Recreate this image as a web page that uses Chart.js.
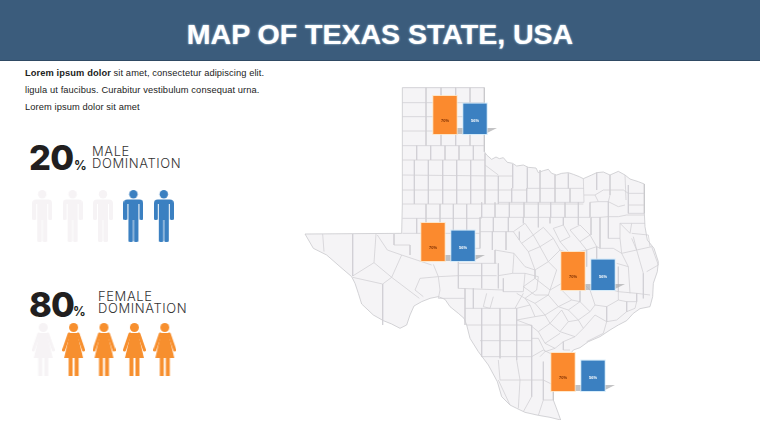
<!DOCTYPE html>
<html>
<head>
<meta charset="utf-8">
<title>Map of Texas State, USA</title>
<script src="https://cdn.jsdelivr.net/npm/chart.js@4/dist/chart.umd.min.js"></script>
<style>
  html, body { margin: 0; padding: 0; background: #fff; width: 760px; height: 428px; overflow: hidden; font-family: "Liberation Sans", Arial, sans-serif; }
  .banner { position: absolute; left: 0; top: 0; width: 760px; height: 60px; background: #3b5c7c; border-bottom: 1px solid #2f4a64; color: #fff; font-size: 28.5px; font-weight: bold; text-align: center; line-height: 69px; text-shadow: 0 0 2px #cfeaf8; }
  .intro { position: absolute; left: 25px; top: 65px; width: 270px; font-size: 9.3px; line-height: 17px; color: #222; letter-spacing: .1px; white-space: nowrap; }
  .big { position: absolute; font-family: Inter, sans-serif; font-weight: 800; font-size: 34.5px; line-height: 35px; color: #221f20; letter-spacing: -.8px; }
  .pct { position: absolute; font-family: Inter, sans-serif; font-weight: 700; font-size: 12.5px; line-height: 13px; color: #221f20; }
  .cap { position: absolute; font-family: Inter, sans-serif; font-weight: 300; font-size: 13px; line-height: 11.8px; letter-spacing: .6px; color: #333; white-space: nowrap; }
  canvas { position: absolute; }
</style>
</head>
<body>
<div class="banner">MAP OF TEXAS STATE, USA</div>
<div class="intro"><b>Lorem ipsum dolor</b> sit amet, consectetur adipiscing elit.<br>ligula ut faucibus. Curabitur vestibulum consequat urna.<br>Lorem ipsum dolor sit amet</div>

<div class="big" style="left:29px;top:140px">20</div>
<div class="pct" style="left:74px;top:159px">%</div>
<div class="cap" style="left:92px;top:146px">MALE<br>DOMINATION</div>

<div class="big" style="left:29px;top:287px">80</div>
<div class="pct" style="left:73px;top:305px">%</div>
<div class="cap" style="left:98px;top:291px">FEMALE<br>DOMINATION</div>

<canvas id="map" style="left:290px;top:80px;width:390px;height:340px"></canvas>
<canvas id="male" style="left:27px;top:188px;width:152px;height:56px"></canvas>
<canvas id="female" style="left:28px;top:321px;width:152px;height:57px"></canvas>

<script>
Chart.defaults.animation = false;

// people pictograms
const malePeople = [0, 1, 2, 3, 4];
const maleFilled = 2;
const femalePeople = [0, 1, 2, 3, 4];
const femaleFilled = 4;

// bars on the map, one entry per group
const regions = ['North', 'West', 'East', 'South'];
const orangeValues = [70, 70, 70, 70];
const blueValues = [56, 56, 56, 56];

// state outline and county lines (x, y, x, y, ...)
const stateOutline = [
  337,23, 583,23, 583,215, 590,225, 605,238, 618,231, 628,236, 640,233, 652,247, 668,250, 680,258, 700,255, 715,262, 738,264, 745,278, 760,272,
  775,268, 785,280, 800,285, 815,280, 835,278, 850,283, 868,290, 880,296, 905,285, 920,278, 940,276, 960,285, 985,274, 1005,285, 1020,297, 1045,305, 1063,312,
  1063,400, 1065,440, 1072,480, 1092,505, 1105,545, 1102,575, 1090,610, 1088,650, 1080,680,
  1050,686, 1030,700, 1010,722, 985,735, 960,750, 930,770, 895,785, 870,803, 850,810, 835,830, 815,855, 800,880, 790,915, 790,960, 805,1000, 812,1020,
  780,1012, 745,1006, 705,997, 680,985, 660,975, 635,950, 622,905, 595,855, 565,815, 540,775, 530,735, 522,715, 505,700, 480,680, 465,658, 445,650,
  420,655, 395,665, 372,678, 360,705, 350,735, 330,745, 305,732, 280,722, 250,705, 215,672, 205,640, 195,610, 185,590, 150,560, 110,525, 70,505, 45,462,
  335,460, 337,372
];
const countyLines = [
  // panhandle grid
  [337,68,583,68], [337,110,583,110], [337,153,583,153], [337,197,583,197], [337,240,585,240], [337,285,625,288], [337,330,712,330], [337,372,880,372], [337,415,575,415], [337,460,570,460],
  [408,23,408,197], [453,23,453,197], [497,23,497,197], [540,23,540,197],
  [380,197,380,240], [422,197,422,240], [465,197,465,240], [507,197,507,240], [550,197,550,240],
  [373,240,373,372], [415,240,415,372], [458,240,458,372], [500,240,500,372], [542,240,542,372], [585,220,585,372], [625,288,625,372], [668,252,668,325], [712,262,712,325], [750,270,750,325], [795,285,795,325], [835,280,835,325], [880,296,882,367],
  [585,255,625,285], [625,288,668,288], [712,325,882,325], [625,367,882,367],
  [665,325,665,367], [710,325,710,367], [750,325,750,367], [795,325,795,367], [840,325,840,367],
  [408,372,408,415], [450,372,450,415], [490,372,490,415], [530,372,530,415], [575,367,575,412],
  [380,415,380,460], [408,415,408,460], [450,415,450,460], [490,415,490,460], [530,415,530,460],
  // north central rows
  [570,412,900,412], [615,367,615,412], [658,367,658,412], [702,367,702,412], [745,367,745,412], [782,367,782,412], [825,367,825,412], [865,367,865,412], [900,367,900,412],
  [610,412,610,455], [655,412,655,455], [700,412,700,430], [745,412,745,442], [780,412,780,430], [820,412,820,435], [865,412,865,435], [903,412,903,465],
  [570,412,570,505], [570,455,670,455], [607,455,607,510], [648,455,648,510], [688,455,688,480],
  // north east corner
  [920,278,920,330], [960,285,960,345], [1005,285,1008,360], [1015,315,1015,400], [1015,340,1063,340], [1015,375,1063,375], [1015,400,1063,400],
  [882,345,915,345,940,330,1000,330,1015,340], [900,367,925,365,955,365,985,380,1005,375], [915,345,925,365], [960,345,955,365],
  [955,365,955,410,985,410,1010,405,1063,405], [955,410,955,475,990,475,990,430,1025,430,1065,430], [990,430,1020,460,1025,430],
  [1025,460,1075,465,1080,500], [1025,475,1040,510,1085,500,1105,555,1070,575], [990,475,995,520,1040,510,1060,580], [995,520,1015,560,980,550], [930,505,970,505,995,520], [930,505,920,500],
  [903,412,930,412,955,410], [930,412,930,505], [1040,510,1030,470],
  // central diagonals
  [670,455,705,430,730,465,695,490,670,455], [730,465,760,442,790,475,750,500,730,465], [790,445,820,435,840,470,810,485,790,445], [840,450,870,435,900,465,870,485,840,450],
  [695,490,715,515,750,500,775,545,735,570], [715,515,735,570], [790,475,810,510,775,545], [810,485,840,520,810,510], [870,485,890,510,840,520], [900,465,920,500,890,510],
  [815,610,780,630,735,595], [735,595,700,620,735,645,775,645], [780,630,775,645], [815,630,845,660,870,665], [845,660,805,680], [735,570,735,595], [775,545,800,570,780,630], [840,520,815,610], [890,510,890,560], [870,600,870,665], [920,500,920,560], [900,630,915,675], [870,600,900,630,950,625,985,635],
  [985,560,985,635], [1060,580,1060,625], [1015,560,1020,640],
  [680,685,720,675,735,710,680,720], [705,655,735,670,775,645,805,680,765,705,735,670], [720,675,705,655,680,640],
  [805,680,835,690,870,665,900,695,865,720,835,690], [735,710,765,705,780,730,745,755,720,735,680,720], [780,730,815,690,835,725,810,755,780,730],
  [835,725,865,720,880,745,855,770,810,755], [880,745,915,705,950,725,940,760,890,785], [900,695,915,675,950,680,950,725],
  [950,680,985,660,1010,665,1010,695,980,720,950,725], [1010,665,1040,665,1035,685,1010,695], [745,755,765,790,810,760], [765,790,795,805,820,785,855,770], [820,785,820,810,840,810],
  [725,775,745,775,765,815,750,830], [765,815,795,805], [985,660,985,635,1040,640,1040,665], [1040,640,1080,645], [1060,625,1060,655],
  // south texas
  [525,685,680,685], [530,735,680,735], [570,782,725,782], [575,830,725,830], [575,685,575,830], [630,685,630,835], [680,685,680,840], [725,735,725,900], [680,735,725,735], [725,830,760,810,800,830],
  [505,550,620,550], [505,587,620,587], [505,550,505,625], [575,550,575,625], [505,505,570,505], [505,505,505,550], [615,510,615,550], [625,550,625,625], [615,510,672,520,705,560,735,570], [672,520,668,580], [625,587,668,580,705,580], [705,580,745,590,740,630,705,655],
  [640,595,640,635,700,635,705,580], [505,625,640,630], [550,625,550,685], [590,640,580,680,600,685,610,650], [675,685,700,640],
  [625,840,630,900,690,900,760,900], [680,840,690,900,685,985], [725,900,725,950,700,995], [760,845,760,960,790,960], [760,900,790,915], [760,960,745,1006], [625,900,660,975],
  // far west
  [98,462,102,515], [188,462,188,588], [258,462,252,548,188,588], [252,548,305,592,388,655], [188,592,278,612,305,592], [278,612,278,735], [335,525,305,592], [262,465,292,510,335,525,425,555],
  [312,462,312,495,360,495,360,525], [390,595,445,590,450,630,445,655], [390,595,375,630,400,650], [430,553,445,590], [445,590,505,587], [445,655,525,655], [525,625,525,735]
];

const groupTops = [94, 221, 250, 351];
const groupLefts = [430, 418, 558, 548];

function pairs(list) {
  const pts = [];
  for (let i = 0; i < list.length; i += 2) pts.push({x: list[i], y: list[i + 1]});
  return pts;
}

const lineSets = countyLines.map(l => ({
  data: pairs(l), showLine: true, fill: false, tension: 0, pointRadius: 0,
  borderColor: '#d0cfd3', borderWidth: 0.75
}));

new Chart(document.getElementById('map'), {
  type: 'scatter',
  data: {datasets: lineSets.concat([
    {data: pairs(stateOutline).concat(pairs(stateOutline.slice(0, 2))), showLine: true, pointRadius: 0, tension: 0,
     backgroundColor: '#f5f4f6', borderColor: '#c6c5c9', borderWidth: 0.75, fill: 'shape', order: 2}
  ])},
  options: {
    responsive: false,
    plugins: {legend: {display: false}, tooltip: {enabled: false}},
    layout: {padding: 0},
    scales: {
      x: {type: 'linear', min: 0, max: 1170, display: false},
      y: {type: 'linear', min: 0, max: 1020, reverse: true, display: false}
    }
  }
});

// bars, one small chart per group
const barExtras = {
  id: 'barExtras',
  beforeDatasetsDraw(chart) {
    const c = chart.ctx;
    const a = chart.getDatasetMeta(0).data[0];
    const b = chart.getDatasetMeta(0).data[1];
    c.save();
    c.fillStyle = 'rgba(170,170,172,.7)';
    c.beginPath();
    c.moveTo(a.x, a.base);
    c.lineTo(a.x, a.base - 6);
    c.lineTo(b.x + 22, a.base - 6);
    c.lineTo(b.x + 10, a.base);
    c.closePath();
    c.fill();
    // pale halo round the bars
    c.fillStyle = 'rgba(255,226,190,.8)';
    c.fillRect(a.x - a.width / 2 - 1, a.y - 1, a.width + 2, a.base - a.y + 2);
    c.fillStyle = 'rgba(205,232,250,.8)';
    c.fillRect(b.x - b.width / 2 - 1, b.y - 1, b.width + 2, b.base - b.y + 2);
    c.restore();
  },
  afterDatasetsDraw(chart) {
    const c = chart.ctx;
    const ds = chart.data.datasets[0];
    chart.getDatasetMeta(0).data.forEach((bar, i) => {
      c.save();
      c.font = 'bold 4px "Liberation Sans"';
      c.textAlign = 'center';
      c.fillStyle = i === 0 ? '#7a2c00' : '#ffffff';
      c.fillText(ds.data[i] + '%', bar.x, bar.base - 12);
      c.restore();
    });
  }
};

regions.forEach((name, i) => {
  const cv = document.createElement('canvas');
  cv.style.cssText = 'left:' + groupLefts[i] + 'px;top:' + groupTops[i] + 'px;width:72px;height:42px';
  document.body.appendChild(cv);
  new Chart(cv, {
    type: 'bar',
    data: {
      labels: ['Orange', 'Blue'],
      datasets: [{
        label: name,
        data: [orangeValues[i], blueValues[i]],
        backgroundColor: ['#fb8a2e', '#3b80c1'],
        categoryPercentage: 0.78,
        barPercentage: 1
      }]
    },
    options: {
      responsive: false,
      plugins: {legend: {display: false}, tooltip: {enabled: false}},
      layout: {padding: {left: 0, right: 12, top: 2, bottom: 2}},
      scales: {
        x: {display: false},
        y: {display: false, min: 0, max: 70}
      }
    },
    plugins: [barExtras]
  });
});

// person icons used as point styles
function makeIcon(w, h, colour, paint) {
  const cv = document.createElement('canvas');
  cv.width = w; cv.height = h;
  const c = cv.getContext('2d');
  c.fillStyle = colour;
  paint(c);
  return cv;
}

function paintMale(c) {
  c.beginPath();
  c.arc(10, 4.2, 4.2, 0, Math.PI * 2);
  c.fill();
  c.beginPath();
  c.roundRect(0, 9.5, 20, 8, 4);
  c.roundRect(0, 12, 4, 18, 1.5);
  c.roundRect(16, 12, 4, 18, 1.5);
  c.rect(5, 10, 10, 20);
  c.roundRect(5, 28, 4.6, 24, 1.5);
  c.roundRect(10.4, 28, 4.6, 24, 1.5);
  c.fill();
  c.clearRect(4, 14, 1, 16);
  c.clearRect(15, 14, 1, 16);
}

function paintFemale(c) {
  c.beginPath();
  c.arc(11.5, 4.5, 4.5, 0, Math.PI * 2);
  c.fill();
  c.beginPath();
  c.moveTo(8, 10);
  c.lineTo(15, 10);
  c.lineTo(21, 35);
  c.lineTo(2, 35);
  c.closePath();
  c.fill();
  c.strokeStyle = c.fillStyle;
  c.lineWidth = 3;
  c.lineCap = 'round';
  c.beginPath();
  c.moveTo(7, 11);
  c.lineTo(1.5, 27);
  c.moveTo(16, 11);
  c.lineTo(21.5, 27);
  c.stroke();
  c.fillRect(6.5, 34, 4, 19);
  c.fillRect(12.5, 34, 4, 19);
}

function peopleChart(id, people, filled, onIcon, offIcon) {
  new Chart(document.getElementById(id), {
    type: 'scatter',
    data: {datasets: [{
      data: people.map(p => ({x: p, y: 0.5})),
      pointStyle: ctx => ctx.dataIndex >= people.length - filled ? onIcon : offIcon,
      clip: false
    }]},
    options: {
      responsive: false,
      layout: {autoPadding: false},
      plugins: {legend: {display: false}, tooltip: {enabled: false}},
      scales: {
        x: {display: false, min: -0.5, max: people.length - 0.5},
        y: {display: false, min: 0, max: 1}
      }
    }
  });
}

peopleChart('male', malePeople, maleFilled, makeIcon(20, 52, '#3b80c1', paintMale), makeIcon(20, 52, '#f6f3f5', paintMale));
peopleChart('female', femalePeople, femaleFilled, makeIcon(23, 53, '#f78f2e', paintFemale), makeIcon(23, 53, '#f6f3f5', paintFemale));
</script>
</body>
</html>
